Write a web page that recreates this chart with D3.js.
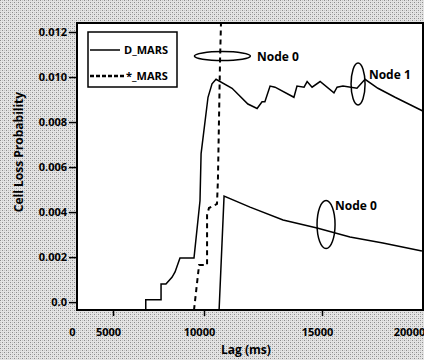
<!DOCTYPE html>
<html>
<head>
<meta charset="utf-8">
<script src="https://cdn.jsdelivr.net/npm/d3@7"></script>
<style>
  body { margin: 0; background: #fff; }
  svg { display: block; font-family: "Open Sans", sans-serif; font-weight: 700; }
</style>
</head>
<body>
<svg class="canvas" width="424" height="360"></svg>
<script>
// tick labels
const lagTicks = [0, 5000, 10000, 15000, 20000];
const lagTickLabels = ["0", "5000", "10000", "15000", "20000"];
const probTicks = [0, 0.002, 0.004, 0.006, 0.008, 0.010, 0.012];
const probTickLabels = ["0.0", "0.002", "0.004", "0.006", "0.008", "0.010", "0.012"];

// D_MARS, node 1 (solid, upper)
const dMarsNode1Lag = [0, 6800, 6800, 7640, 7640, 7910, 8240, 8410, 8680, 9450, 9780, 9840, 10170, 10340, 10510,
  11190, 11860, 12250, 12460, 12580, 12800, 13010, 13810, 13940, 14240, 14370, 14580, 14920, 15650, 15820,
  16140, 16900, 17340, 18040, 18970, 20450];
const dMarsNode1Prob = [-0.00035, -0.00035, 0.0001, 0.0001, 0.0008, 0.0008, 0.0011, 0.00134, 0.00196, 0.00196,
  0.0045, 0.0066, 0.0091, 0.0097, 0.0099, 0.0095, 0.0088, 0.0086, 0.0089, 0.0089, 0.0096, 0.00955, 0.0091,
  0.0096, 0.00955, 0.0098, 0.00955, 0.0098, 0.0093, 0.00955, 0.0096, 0.0095, 0.0099, 0.0095, 0.0091, 0.0085];

// D_MARS, node 0 (solid, lower)
const dMarsNode0Lag = [10640, 10850, 11950, 13350, 14790, 16520, 18310, 20430];
const dMarsNode0Prob = [-0.00035, 0.00471, 0.00422, 0.00365, 0.00329, 0.00289, 0.00263, 0.00227];

// *_MARS (dashed)
const starMarsLag = [9450, 9730, 10130, 10130, 10210, 10550, 10590, 10680, 10720];
const starMarsProb = [-0.00035, 0.00165, 0.00165, 0.00387, 0.00418, 0.00436, 0.00542, 0.01075, 0.0124];

// ellipse notes
const noteLabels = ["Node 0", "Node 1", "Node 0"];
const noteLag = [10780, 16960, 15220];
const noteProb = [0.01093, 0.00969, 0.00345];
const noteTextLag = [12250, 17550, 15710];
const noteTextProb = [0.01089, 0.0101, 0.00427];

var svg = d3.select(".canvas");
var plotLeft = 77, plotRight = 423, plotTop = 23, plotBottom = 310;

// the scanned axis is not evenly spaced
var x = d3.scaleLinear().domain(lagTicks).range([plotLeft, 113, 204, 322, 414]);
var y = d3.scaleLinear().domain([-0.00035, 0.0124]).range([plotBottom, plotTop]);

// halftone paper
var defs = svg.append("defs");
var pat = defs.append("pattern")
  .attr("id", "halftone")
  .attr("patternUnits", "userSpaceOnUse")
  .attr("width", 4)
  .attr("height", 4);
pat.append("rect").attr("width", 4).attr("height", 4).attr("fill", "#e4e4e4");
pat.append("rect").attr("x", 0).attr("y", 0).attr("width", 1).attr("height", 1).attr("fill", "#8c8c8c");
pat.append("rect").attr("x", 2).attr("y", 2).attr("width", 1).attr("height", 1).attr("fill", "#8c8c8c");
pat.append("rect").attr("x", 2).attr("y", 0).attr("width", 1).attr("height", 1).attr("fill", "#c4c4c4");
pat.append("rect").attr("x", 0).attr("y", 2).attr("width", 1).attr("height", 1).attr("fill", "#c4c4c4");

svg.append("rect").attr("width", 424).attr("height", 360).attr("fill", "url(#halftone)");
svg.append("rect")
  .attr("x", plotLeft).attr("y", plotTop)
  .attr("width", plotRight - plotLeft).attr("height", plotBottom - plotTop)
  .attr("fill", "#fff");

// axes
var yAxis = svg.append("g")
  .attr("transform", `translate(${plotLeft},0)`)
  .call(d3.axisLeft(y).tickValues(probTicks).tickSize(8).tickPadding(2)
    .tickFormat((d, i) => probTickLabels[i]));
yAxis.select(".domain").remove();
yAxis.selectAll("line").attr("stroke-width", 1.5);
yAxis.selectAll("text").attr("font-size", 11).attr("font-weight", 700).attr("font-family", "Open Sans").attr("fill", "#000");

var xAxis = svg.append("g")
  .attr("transform", `translate(0,${plotBottom})`)
  .call(d3.axisBottom(x).tickValues(lagTicks).tickSize(6).tickPadding(12)
    .tickFormat((d, i) => lagTickLabels[i]));
xAxis.select(".domain").remove();
xAxis.selectAll("line")
  .attr("stroke-width", 1.5)
  .attr("opacity", d => (d === 0 || d === 20000) ? 0 : 1);
xAxis.selectAll("text")
  .attr("dx", -5)
  .attr("font-size", 11).attr("font-weight", 700).attr("font-family", "Open Sans").attr("fill", "#000");

// frame
svg.append("rect")
  .attr("x", plotLeft).attr("y", plotTop)
  .attr("width", plotRight - plotLeft).attr("height", plotBottom - plotTop)
  .attr("fill", "none")
  .attr("stroke", "#000")
  .attr("stroke-width", 2);

var line = d3.line().x(d => x(d[0])).y(d => y(d[1]));

svg.append("path")
  .datum(d3.zip(dMarsNode1Lag, dMarsNode1Prob))
  .attr("d", line)
  .attr("fill", "none")
  .attr("stroke", "#000")
  .attr("stroke-width", 1.5);

svg.append("path")
  .datum(d3.zip(dMarsNode0Lag, dMarsNode0Prob))
  .attr("d", line)
  .attr("fill", "none")
  .attr("stroke", "#000")
  .attr("stroke-width", 1.5);

svg.append("path")
  .datum(d3.zip(starMarsLag, starMarsProb))
  .attr("d", line)
  .attr("fill", "none")
  .attr("stroke", "#000")
  .attr("stroke-width", 2)
  .attr("stroke-dasharray", "5,4");

// ellipses + labels
var radii = [[28, 4.5], [7, 21], [9, 24]];
noteLabels.forEach(function (label, i) {
  svg.append("ellipse")
    .attr("cx", x(noteLag[i]))
    .attr("cy", y(noteProb[i]))
    .attr("rx", radii[i][0])
    .attr("ry", radii[i][1])
    .attr("fill", "none")
    .attr("stroke", "#000")
    .attr("stroke-width", 1.5);
  svg.append("text")
    .attr("x", x(noteTextLag[i]))
    .attr("y", y(noteTextProb[i]))
    .attr("dy", "0.35em")
    .attr("font-size", 12)
    .text(label);
});

// legend
var legend = svg.append("g").attr("transform", "translate(88,32)");
legend.append("rect")
  .attr("width", 89).attr("height", 55)
  .attr("fill", "#fff")
  .attr("stroke", "#000")
  .attr("stroke-width", 1.5);
legend.append("line").attr("x1", 2).attr("x2", 32).attr("y1", 18).attr("y2", 18)
  .attr("stroke", "#000").attr("stroke-width", 1.5);
legend.append("line").attr("x1", 2).attr("x2", 37).attr("y1", 44).attr("y2", 44)
  .attr("stroke", "#000").attr("stroke-width", 2.5).attr("stroke-dasharray", "4,2");
legend.append("text").attr("x", 36).attr("y", 22).attr("font-size", 11).text("D_MARS");
legend.append("text").attr("x", 38).attr("y", 48).attr("font-size", 11).text("*_MARS");

// axis titles
svg.append("text")
  .attr("x", (plotLeft + plotRight) / 2 - 4)
  .attr("y", 354)
  .attr("text-anchor", "middle")
  .attr("font-size", 12)
  .text("Lag (ms)");

svg.append("text")
  .attr("transform", "translate(23,152) rotate(-90)")
  .attr("text-anchor", "middle")
  .attr("font-size", 12)
  .text("Cell Loss Probability");
</script>
</body>
</html>
